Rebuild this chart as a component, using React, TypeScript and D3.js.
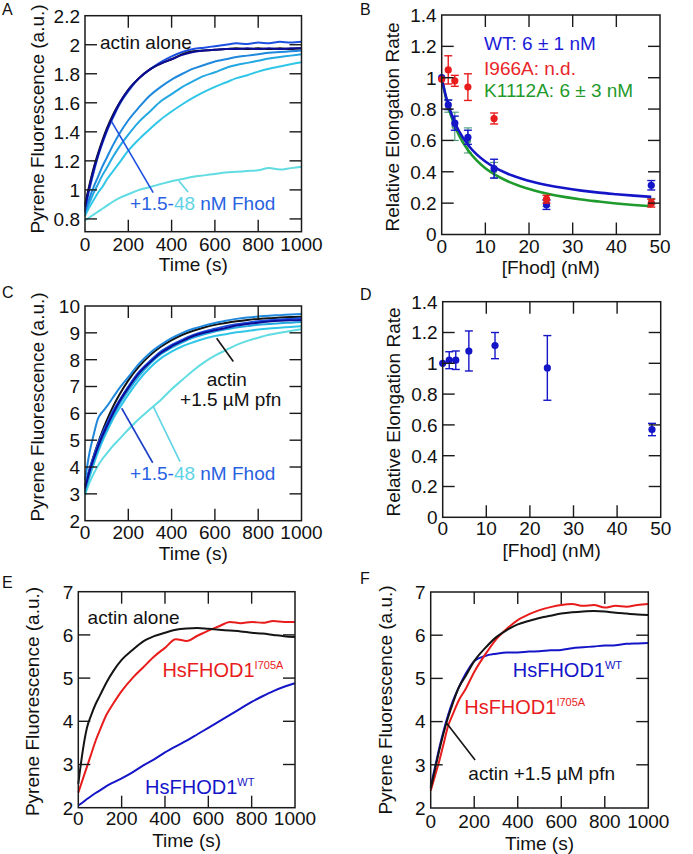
import React from "react";
import * as d3 from "d3";

const FONT = "'Liberation Sans', Arial, Helvetica, sans-serif";

// ---------- shared time grid (s) ----------
const TIMES = [0, 20, 40, 60, 80, 100, 130, 160, 200, 250, 300, 350, 400, 450, 500, 550, 600, 650, 700, 750, 800, 850, 900, 950, 1000];

// ---------- Panel A ----------
const A_ACTIN = [0.9, 1.03, 1.15, 1.25, 1.34, 1.42, 1.52, 1.6, 1.69, 1.77, 1.83, 1.87, 1.9, 1.935, 1.955, 1.96, 1.965, 1.97, 1.975, 1.97, 1.975, 1.97, 1.975, 1.97, 1.975];
const A_F1_5 = [0.88, 1.02, 1.14, 1.24, 1.33, 1.41, 1.51, 1.6, 1.69, 1.77, 1.83, 1.87, 1.9, 1.93, 1.95, 1.96, 1.965, 1.97, 1.97, 1.975, 1.97, 1.975, 1.97, 1.975, 1.975];
const A_F3 = [0.86, 1.0, 1.12, 1.23, 1.32, 1.4, 1.5, 1.59, 1.68, 1.77, 1.83, 1.88, 1.92, 1.95, 1.97, 1.98, 1.99, 2.0, 2.01, 2.005, 2.015, 2.01, 2.02, 2.015, 2.02];
const A_F6 = [0.85, 0.94, 1.02, 1.09, 1.16, 1.22, 1.31, 1.39, 1.48, 1.57, 1.65, 1.71, 1.76, 1.8, 1.835, 1.86, 1.885, 1.9, 1.915, 1.925, 1.935, 1.945, 1.95, 1.955, 1.96];
const A_F12 = [0.84, 0.91, 0.98, 1.04, 1.1, 1.15, 1.23, 1.3, 1.38, 1.47, 1.54, 1.61, 1.66, 1.71, 1.75, 1.785, 1.81, 1.84, 1.86, 1.875, 1.89, 1.905, 1.915, 1.925, 1.935];
const A_F24 = [0.82, 0.88, 0.93, 0.98, 1.02, 1.07, 1.13, 1.19, 1.27, 1.35, 1.42, 1.485, 1.54, 1.59, 1.635, 1.675, 1.71, 1.74, 1.77, 1.79, 1.815, 1.835, 1.85, 1.865, 1.88];
const A_F48 = [0.79, 0.81, 0.83, 0.85, 0.87, 0.89, 0.92, 0.945, 0.97, 1.0, 1.02, 1.04, 1.06, 1.075, 1.09, 1.1, 1.11, 1.12, 1.125, 1.13, 1.135, 1.15, 1.14, 1.15, 1.16];
const A_Y_TICKS = [0.8, 1, 1.2, 1.4, 1.6, 1.8, 2, 2.2];
const TIME_TICKS = [0, 200, 400, 600, 800, 1000];

// ---------- Panel B ----------
const B_X = [0, 1.5, 3, 6, 12, 24, 48];
const B_WT = [1.0, 0.827, 0.71, 0.62, 0.42, 0.19, 0.314];
const B_WT_ERR = [0, 0.03, 0.045, 0.045, 0.06, 0.03, 0.03];
const B_I966A = [0.99, 1.05, 0.98, 0.94, 0.74, 0.225, 0.2];
const B_I966A_ERR = [0, 0.09, 0.035, 0.085, 0.035, 0.025, 0.025];
const B_K1112A = [1.0, 0.82, 0.69, 0.6, 0.41, 0.2, 0.21];
const B_K1112A_ERR = [0, 0.04, 0.09, 0.08, 0.05, 0.02, 0.02];
const FIT_X = [0, 1, 2, 3, 4, 6, 8, 10, 12, 15, 18, 21, 24, 28, 32, 36, 40, 44, 48];
const FIT_WT = [1, 0.878, 0.786, 0.715, 0.658, 0.573, 0.511, 0.466, 0.43, 0.389, 0.359, 0.335, 0.316, 0.296, 0.28, 0.267, 0.257, 0.248, 0.24];
const FIT_K1112A = [1, 0.868, 0.769, 0.693, 0.631, 0.539, 0.473, 0.423, 0.385, 0.341, 0.308, 0.283, 0.262, 0.24, 0.223, 0.21, 0.198, 0.188, 0.18];
const RATE_TICKS = [0, 0.2, 0.4, 0.6, 0.8, 1, 1.2, 1.4];
const FHOD_TICKS = [0, 10, 20, 30, 40, 50];

// ---------- Panel C ----------
const C_ACTIN = [3.3, 3.88, 4.41, 4.89, 5.33, 5.73, 6.26, 6.71, 7.23, 7.75, 8.16, 8.48, 8.73, 8.93, 9.08, 9.2, 9.3, 9.37, 9.43, 9.48, 9.52, 9.54, 9.57, 9.59, 9.6];
const C_F1_5 = [3.2, 3.8, 4.3, 4.75, 5.15, 5.5, 6.0, 6.45, 6.95, 7.5, 7.9, 8.25, 8.5, 8.7, 8.88, 9.0, 9.1, 9.18, 9.27, 9.33, 9.38, 9.42, 9.45, 9.47, 9.48];
const C_F3 = [3.3, 3.9, 4.4, 4.85, 5.25, 5.6, 6.1, 6.5, 7.0, 7.55, 7.95, 8.3, 8.55, 8.75, 8.92, 9.05, 9.15, 9.25, 9.32, 9.38, 9.43, 9.47, 9.5, 9.52, 9.54];
const C_F6 = [3.5, 4.5, 5.2, 5.8, 6.05, 6.25, 6.6, 6.95, 7.35, 7.85, 8.25, 8.55, 8.8, 9.0, 9.15, 9.27, 9.37, 9.45, 9.52, 9.57, 9.61, 9.64, 9.66, 9.68, 9.7];
const C_F12 = [3.1, 3.7, 4.2, 4.65, 5.05, 5.4, 5.9, 6.35, 6.85, 7.4, 7.85, 8.2, 8.45, 8.65, 8.82, 8.95, 9.05, 9.13, 9.2, 9.25, 9.3, 9.33, 9.36, 9.38, 9.4];
const C_F24 = [3.0, 3.6, 4.1, 4.55, 4.95, 5.3, 5.8, 6.2, 6.7, 7.25, 7.7, 8.05, 8.3, 8.5, 8.65, 8.78, 8.88, 8.95, 9.02, 9.07, 9.12, 9.16, 9.19, 9.22, 9.25];
const C_F48 = [2.95, 3.4, 3.75, 4.05, 4.3, 4.5, 4.8, 5.05, 5.4, 5.8, 6.15, 6.5, 6.9, 7.25, 7.6, 7.9, 8.15, 8.35, 8.55, 8.7, 8.82, 8.93, 9.0, 9.07, 9.13];
const C_Y_TICKS = [2, 3, 4, 5, 6, 7, 8, 9, 10];

// ---------- Panel D ----------
const D_X = [0, 1.5, 3, 6, 12, 24, 48];
const D_Y = [1.0, 1.02, 1.02, 1.08, 1.115, 0.97, 0.57];
const D_ERR = [0, 0.055, 0.06, 0.13, 0.085, 0.21, 0.04];

// ---------- Panel E ----------
const E_ACTIN = [2.55, 3.3, 3.85, 4.15, 4.4, 4.6, 4.9, 5.15, 5.42, 5.65, 5.85, 5.97, 6.05, 6.12, 6.15, 6.16, 6.14, 6.12, 6.1, 6.08, 6.05, 6.03, 6.0, 5.97, 5.95];
const E_I705A = [2.35, 2.65, 2.95, 3.25, 3.55, 3.8, 4.15, 4.4, 4.7, 5.0, 5.25, 5.5, 5.7, 5.9, 5.86, 5.98, 6.1, 6.2, 6.3, 6.27, 6.3, 6.28, 6.32, 6.3, 6.3];
const E_WT = [2.05, 2.12, 2.2, 2.27, 2.34, 2.4, 2.5, 2.58, 2.68, 2.82, 2.98, 3.12, 3.28, 3.42, 3.55, 3.7, 3.85, 4.0, 4.15, 4.3, 4.45, 4.58, 4.7, 4.8, 4.88];
const EF_Y_TICKS = [2, 3, 4, 5, 6, 7];

// ---------- Panel F ----------
const F_ACTIN = [2.45, 2.9, 3.35, 3.75, 4.1, 4.4, 4.8, 5.05, 5.4, 5.7, 5.95, 6.12, 6.25, 6.33, 6.4, 6.45, 6.5, 6.53, 6.55, 6.56, 6.55, 6.52, 6.5, 6.48, 6.47];
const F_I705A = [2.4, 2.75, 3.1, 3.5, 3.9, 4.15, 4.5, 4.75, 5.15, 5.55, 5.9, 6.15, 6.35, 6.48, 6.58, 6.65, 6.7, 6.72, 6.68, 6.7, 6.64, 6.68, 6.66, 6.7, 6.72];
const F_WT = [2.5, 2.95, 3.4, 3.8, 4.15, 4.45, 4.8, 5.1, 5.4, 5.52, 5.57, 5.6, 5.6, 5.62, 5.63, 5.65, 5.66, 5.7, 5.72, 5.74, 5.76, 5.77, 5.8, 5.81, 5.82];

type Fr = { x0: number; x1: number; y0: number; y1: number };

const fmtNum = (v: number) => {
  const s = d3.format(".1f")(v);
  return s.endsWith(".0") ? s.slice(0, -2) : s;
};

function Axes(props: {
  fr: Fr;
  x: d3.ScaleLinear<number, number>;
  y: d3.ScaleLinear<number, number>;
  xTicks: number[];
  yTicks: number[];
  xTitle: string;
  yTitle: string;
  xLabOff: number;
  xTitleOff: number;
  yTitleOff: number;
  yTitleCY: number;
}) {
  const { fr, x, y, xTicks, yTicks } = props;
  const tl = 12;
  const [xd0, xd1] = x.domain();
  const [yd0, yd1] = y.domain();
  const stroke = "#1a1a1a";
  return (
    <g fontFamily={FONT} fill="#111">
      {xTicks
        .filter((t) => t !== xd0 && t !== xd1)
        .map((t) => (
          <g key={"xt" + t} stroke={stroke} strokeWidth={1.4}>
            <line x1={x(t)} x2={x(t)} y1={fr.y1} y2={fr.y1 - tl} />
            <line x1={x(t)} x2={x(t)} y1={fr.y0} y2={fr.y0 + tl} />
          </g>
        ))}
      {yTicks
        .filter((t) => Math.abs(t - yd0) > 1e-9 && Math.abs(t - yd1) > 1e-9)
        .map((t) => (
          <g key={"yt" + t} stroke={stroke} strokeWidth={1.4}>
            <line x1={fr.x0} x2={fr.x0 + tl} y1={y(t)} y2={y(t)} />
            <line x1={fr.x1} x2={fr.x1 - tl} y1={y(t)} y2={y(t)} />
          </g>
        ))}
      <rect x={fr.x0} y={fr.y0} width={fr.x1 - fr.x0} height={fr.y1 - fr.y0} fill="none" stroke={stroke} strokeWidth={1.5} />
      {xTicks.map((t) => (
        <text key={"xl" + t} x={x(t)} y={fr.y1 + props.xLabOff} textAnchor="middle" fontSize={19}>
          {fmtNum(t)}
        </text>
      ))}
      {yTicks.map((t) => (
        <text key={"yl" + t} x={fr.x0 - 5} y={y(t)} dy="0.36em" textAnchor="end" fontSize={19}>
          {fmtNum(t)}
        </text>
      ))}
      <text x={(fr.x0 + fr.x1) / 2} y={fr.y1 + props.xTitleOff} textAnchor="middle" fontSize={19}>
        {props.xTitle}
      </text>
      <text
        transform={`translate(${fr.x0 - props.yTitleOff},${props.yTitleCY}) rotate(-90)`}
        textAnchor="middle"
        dy="0.36em"
        fontSize={19}
      >
        {props.yTitle}
      </text>
    </g>
  );
}

function scales(fr: Fr, xd: [number, number], yd: [number, number]) {
  const x = d3.scaleLinear().domain(xd).range([fr.x0, fr.x1]);
  const y = d3.scaleLinear().domain(yd).range([fr.y1, fr.y0]);
  return { x, y };
}

function Trace({ x, y, xs, ys, color, w = 2 }: any) {
  const line = d3
    .line<number>()
    .x((_, i) => x(xs[i]))
    .y((v) => y(v))
    .curve(d3.curveMonotoneX);
  return <path d={line(ys) || ""} fill="none" stroke={color} strokeWidth={w} strokeLinejoin="round" />;
}

function ErrPoints({ x, y, xs, ys, errs, color, bw = 1.4, r = 3.6 }: any) {
  return (
    <g>
      {xs.map((xv: number, i: number) => {
        const cx = x(xv);
        const e = errs[i];
        return (
          <g key={i} stroke={color} strokeWidth={bw}>
            {e > 0 && (
              <>
                <line x1={cx} x2={cx} y1={y(ys[i] - e)} y2={y(ys[i] + e)} />
                <line x1={cx - 4} x2={cx + 4} y1={y(ys[i] - e)} y2={y(ys[i] - e)} />
                <line x1={cx - 4} x2={cx + 4} y1={y(ys[i] + e)} y2={y(ys[i] + e)} />
              </>
            )}
            <circle cx={cx} cy={y(ys[i])} r={r} fill={color} stroke="none" />
          </g>
        );
      })}
    </g>
  );
}

const COL = {
  black: "#141414",
  navy: "#0c0c96",
  blue: "#1d50e0",
  mid: "#1f88dc",
  light: "#24a8e2",
  cyan: "#30c6e8",
  aqua: "#60dce2",
  wt: "#1515c8",
  red: "#e81c1c",
  green: "#1f9a2c",
  greenBar: "#4a9a78",
  label: "#2862e2",
  label48: "#5fd3e6",
};

export default function App() {
  // Panel frames
  const frA: Fr = { x0: 85, x1: 301.5, y0: 15.7, y1: 231.7 };
  const frB: Fr = { x0: 441.7, x1: 660, y0: 15, y1: 234.5 };
  const frC: Fr = { x0: 85, x1: 301.5, y0: 306, y1: 520.7 };
  const frD: Fr = { x0: 442.7, x1: 660.7, y0: 301.7, y1: 517.3 };
  const frE: Fr = { x0: 78.3, x1: 295, y0: 591.7, y1: 807.7 };
  const frF: Fr = { x0: 430.7, x1: 648.3, y0: 592, y1: 808 };

  const A = scales(frA, [0, 1000], [0.712, 2.2]);
  const B = scales(frB, [0, 50], [0, 1.4]);
  const C = scales(frC, [0, 1000], [2, 10]);
  const D = scales(frD, [0, 50], [0, 1.4]);
  const E = scales(frE, [0, 1000], [2, 7]);
  const F = scales(frF, [0, 1000], [2, 7]);

  const pyr = "Pyrene Fluorescence (a.u.)";
  const rel = "Relative Elongation Rate";

  return (
    <svg
      width={693}
      height={854}
      viewBox="0 0 693 854"
      style={{ position: "absolute", left: 0, top: 0, background: "#fff" }}
      fontFamily={FONT}
    >
      <rect width={693} height={854} fill="#fff" />
      {/* Panel letters */}
      <g fontSize={16} fill="#111">
        <text x={2} y={15}>A</text>
        <text x={360} y={15}>B</text>
        <text x={2} y={298}>C</text>
        <text x={360} y={300}>D</text>
        <text x={2} y={588}>E</text>
        <text x={360} y={584}>F</text>
      </g>

      {/* ---------- A ---------- */}
      <g>
        <Trace {...A} xs={TIMES} ys={A_F48} color={COL.aqua} />
        <Trace {...A} xs={TIMES} ys={A_F24} color={COL.cyan} />
        <Trace {...A} xs={TIMES} ys={A_F12} color={COL.light} />
        <Trace {...A} xs={TIMES} ys={A_F6} color={COL.mid} />
        <Trace {...A} xs={TIMES} ys={A_F3} color={COL.blue} />
        <Trace {...A} xs={TIMES} ys={A_ACTIN} color={COL.black} />
        <Trace {...A} xs={TIMES} ys={A_F1_5} color={COL.navy} />
        <line x1={A.x(123)} y1={A.y(1.47)} x2={A.x(315)} y2={A.y(0.981)} stroke={COL.blue} strokeWidth={1.6} />
        <line x1={A.x(434)} y1={A.y(1.062)} x2={A.x(476)} y2={A.y(0.986)} stroke={COL.label48} strokeWidth={1.6} />
        <text x={A.x(69)} y={A.y(1.974)} fontSize={19} fill="#111">actin alone</text>
        <text x={A.x(208)} y={A.y(0.86)} fontSize={19}>
          <tspan fill={COL.label}>+1.5-</tspan>
          <tspan fill={COL.label48}>48</tspan>
          <tspan fill={COL.label}> nM Fhod</tspan>
        </text>
        <Axes fr={frA} {...A} xTicks={TIME_TICKS} yTicks={A_Y_TICKS} xTitle="Time (s)" yTitle={pyr}
          xLabOff={19} xTitleOff={39.5} yTitleOff={48} yTitleCY={119} />
      </g>

      {/* ---------- B ---------- */}
      <g>
        <ErrPoints {...B} xs={B_X} ys={B_K1112A} errs={B_K1112A_ERR} color={COL.greenBar} bw={1.1} r={3.2} />
        <Trace {...B} xs={FIT_X} ys={FIT_K1112A} color={COL.green} w={2.6} />
        <Trace {...B} xs={FIT_X} ys={FIT_WT} color={COL.wt} w={2.6} />
        <ErrPoints {...B} xs={B_X} ys={B_WT} errs={B_WT_ERR} color={COL.wt} />
        <ErrPoints {...B} xs={B_X} ys={B_I966A} errs={B_I966A_ERR} color={COL.red} />
        <text x={B.x(9.7)} y={B.y(1.177)} fontSize={19} fill="#1c1cd8">WT: 6 ± 1 nM</text>
        <text x={B.x(9.7)} y={B.y(1.017)} fontSize={19} fill="#e8262a">I966A: n.d.</text>
        <text x={B.x(9.7)} y={B.y(0.878)} fontSize={19} fill={COL.green}>K1112A: 6 ± 3 nM</text>
        <Axes fr={frB} {...B} xTicks={FHOD_TICKS} yTicks={RATE_TICKS} xTitle="[Fhod] (nM)" yTitle={rel}
          xLabOff={18} xTitleOff={39.5} yTitleOff={50} yTitleCY={127} />
      </g>

      {/* ---------- C ---------- */}
      <g>
        <Trace {...C} xs={TIMES} ys={C_F48} color={COL.aqua} />
        <Trace {...C} xs={TIMES} ys={C_F24} color={COL.cyan} />
        <Trace {...C} xs={TIMES} ys={C_F12} color={COL.light} />
        <Trace {...C} xs={TIMES} ys={C_ACTIN} color={COL.black} />
        <Trace {...C} xs={TIMES} ys={C_F3} color={COL.blue} />
        <Trace {...C} xs={TIMES} ys={C_F1_5} color={COL.navy} />
        <Trace {...C} xs={TIMES} ys={C_F6} color={COL.mid} />
        <line x1={C.x(608)} y1={C.y(8.8)} x2={C.x(685)} y2={C.y(7.93)} stroke={COL.black} strokeWidth={1.6} />
        <line x1={C.x(169.5)} y1={C.y(6.19)} x2={C.x(312.7)} y2={C.y(4.16)} stroke="#1c3fc8" strokeWidth={1.6} />
        <line x1={C.x(315.5)} y1={C.y(6.25)} x2={C.x(439)} y2={C.y(4.2)} stroke={COL.label48} strokeWidth={1.6} />
        <text x={C.x(562)} y={C.y(7.02)} fontSize={19} fill="#111">actin</text>
        <text x={C.x(439)} y={C.y(6.27)} fontSize={19} fill="#111">+1.5 µM pfn</text>
        <text x={C.x(208)} y={C.y(3.52)} fontSize={19}>
          <tspan fill={COL.label}>+1.5-</tspan>
          <tspan fill={COL.label48}>48</tspan>
          <tspan fill={COL.label}> nM Fhod</tspan>
        </text>
        <Axes fr={frC} {...C} xTicks={TIME_TICKS} yTicks={C_Y_TICKS} xTitle="Time (s)" yTitle={pyr}
          xLabOff={18} xTitleOff={39.5} yTitleOff={48} yTitleCY={407} />
      </g>

      {/* ---------- D ---------- */}
      <g>
        <ErrPoints {...D} xs={D_X} ys={D_Y} errs={D_ERR} color={COL.wt} />
        <Axes fr={frD} {...D} xTicks={FHOD_TICKS} yTicks={RATE_TICKS} xTitle="[Fhod] (nM)" yTitle={rel}
          xLabOff={18} xTitleOff={39.5} yTitleOff={49.5} yTitleCY={412} />
      </g>

      {/* ---------- E ---------- */}
      <g>
        <Trace {...E} xs={TIMES} ys={E_WT} color={COL.wt} />
        <Trace {...E} xs={TIMES} ys={E_I705A} color={COL.red} />
        <Trace {...E} xs={TIMES} ys={E_ACTIN} color={COL.black} />
        <text x={E.x(43)} y={E.y(6.26)} fontSize={19} fill="#111">actin alone</text>
        <text x={E.x(388)} y={E.y(5.03)} fontSize={20} fill={COL.red}>
          HsFHOD1<tspan fontSize={11} dy={-8}>I705A</tspan>
        </text>
        <text x={E.x(308)} y={E.y(2.32)} fontSize={20} fill={COL.wt}>
          HsFHOD1<tspan fontSize={11} dy={-8}>WT</tspan>
        </text>
        <Axes fr={frE} {...E} xTicks={TIME_TICKS} yTicks={EF_Y_TICKS} xTitle="Time (s)" yTitle={pyr}
          xLabOff={17.5} xTitleOff={39.5} yTitleOff={46.6} yTitleCY={701.5} />
      </g>

      {/* ---------- F ---------- */}
      <g>
        <Trace {...F} xs={TIMES} ys={F_WT} color={COL.wt} />
        <Trace {...F} xs={TIMES} ys={F_I705A} color={COL.red} />
        <Trace {...F} xs={TIMES} ys={F_ACTIN} color={COL.black} />
        <line x1={F.x(73.5)} y1={F.y(3.96)} x2={F.x(204)} y2={F.y(3.11)} stroke={COL.black} strokeWidth={1.6} />
        <text x={F.x(377)} y={F.y(5.03)} fontSize={20} fill={COL.wt}>
          HsFHOD1<tspan fontSize={11} dy={-8}>WT</tspan>
        </text>
        <text x={F.x(154)} y={F.y(4.18)} fontSize={20} fill={COL.red}>
          HsFHOD1<tspan fontSize={11} dy={-8}>I705A</tspan>
        </text>
        <text x={F.x(173)} y={F.y(2.64)} fontSize={19} fill="#111">actin +1.5 µM pfn</text>
        <Axes fr={frF} {...F} xTicks={TIME_TICKS} yTicks={EF_Y_TICKS} xTitle="Time (s)" yTitle={pyr}
          xLabOff={19.5} xTitleOff={42} yTitleOff={45.7} yTitleCY={700} />
      </g>
    </svg>
  );
}
